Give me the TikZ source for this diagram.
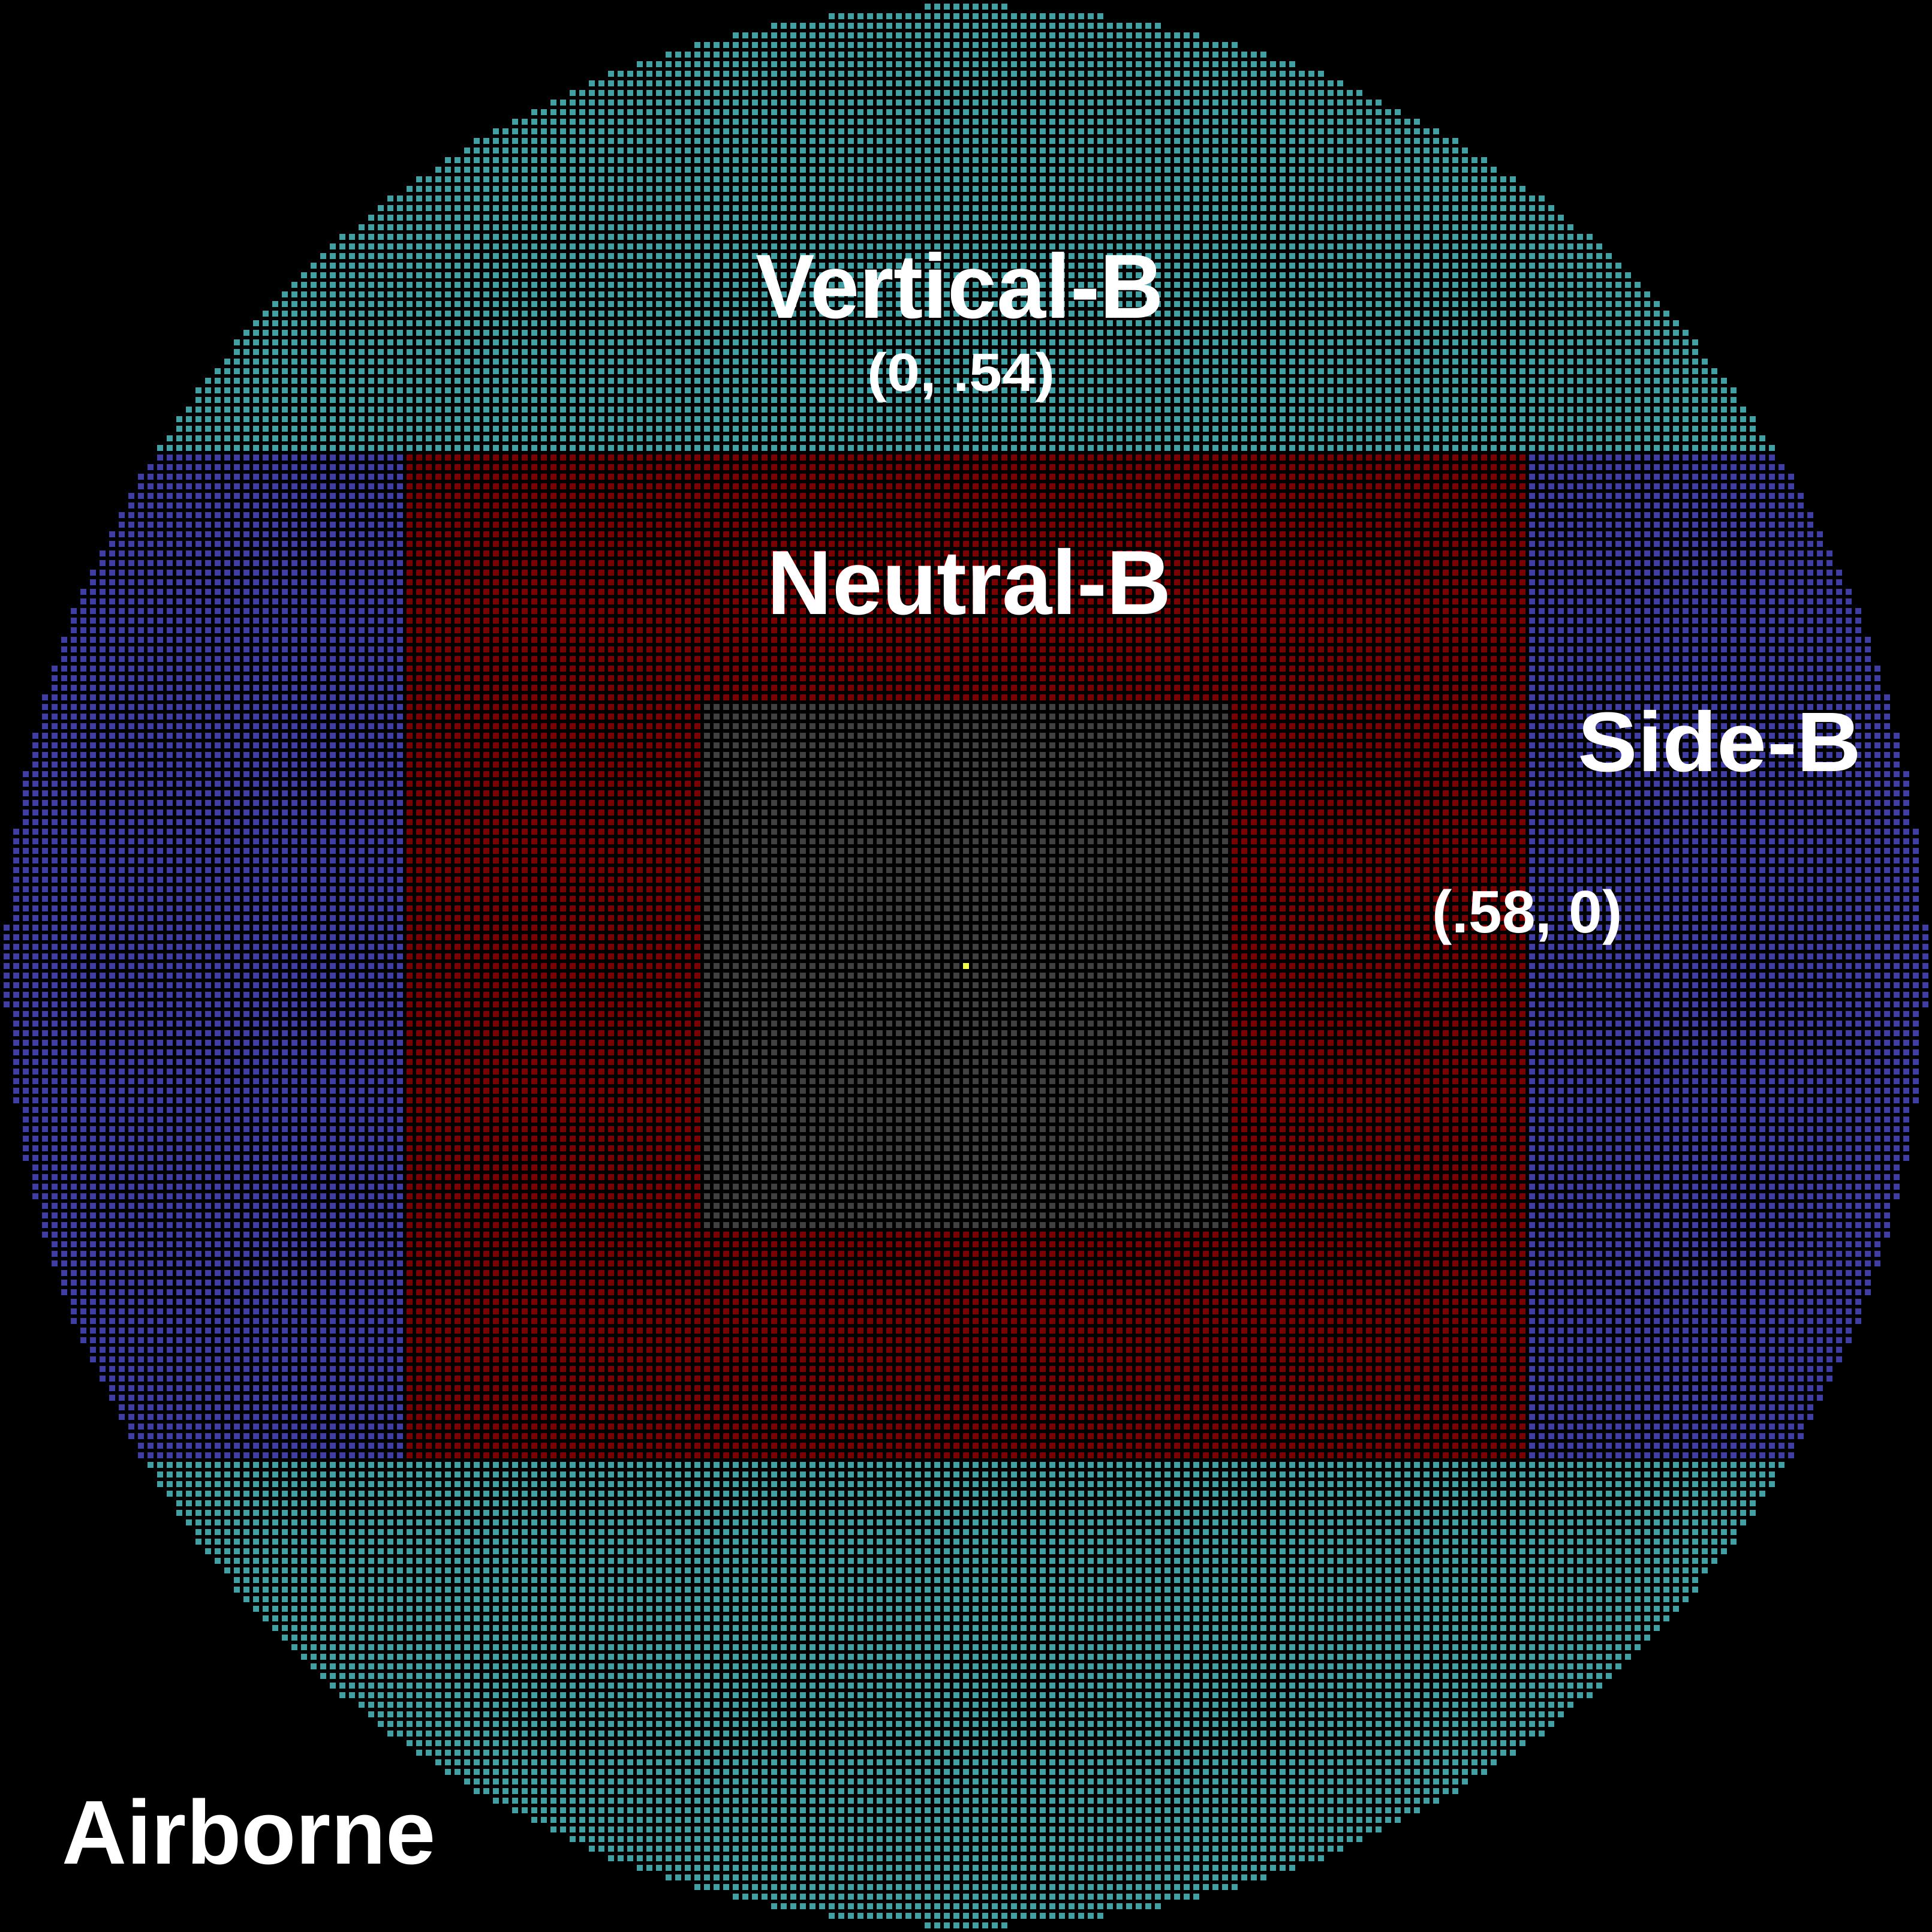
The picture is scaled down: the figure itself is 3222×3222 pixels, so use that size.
\documentclass[tikz,border=0pt]{standalone}
\usepackage{fontspec}
\setmainfont{Liberation Sans}
\usepackage{graphicx}
\definecolor{tealc}{RGB}{65,160,165}
\definecolor{bluec}{RGB}{64,61,165}
\definecolor{redc}{RGB}{124,0,0}
\definecolor{grayc}{RGB}{64,64,64}
\definecolor{yelc}{RGB}{240,255,80}
\begin{document}
\begin{tikzpicture}[x=0.01cm,y=-0.01cm,
  lab/.style={text=white,inner sep=0pt,anchor=base}]
\fill[black] (0,0) rectangle (3222,3222);
\useasboundingbox (0,0) rectangle (3222,3222);
% teal rows
\foreach \j in {-100,...,-54,52,53,...,100}{
  \pgfmathtruncatemacro{\n}{floor(sqrt(10020-\j*\j))}
  \fill[tealc] ({1606-16*\n},{1606+16*\j}) rectangle ({1616+16*\n},{1616+16*\j});
}
% blue rows
\foreach \j in {-53,...,51}{
  \pgfmathtruncatemacro{\n}{floor(sqrt(10020-\j*\j))}
  \fill[bluec] ({1606-16*\n},{1606+16*\j}) rectangle ({1616+16*\n},{1616+16*\j});
}
% neutral and centre
\fill[redc] (678,758) rectangle (2544,2432);
\fill[grayc] (1174,1174) rectangle (2048,2048);
\fill[yelc] (1606,1606) rectangle (1616,1616);
% black grid gaps
\foreach \k in {-101,...,100}{
  \fill[black] ({1616+16*\k},0) rectangle ++(6,3222);
  \fill[black] (0,{1616+16*\k}) rectangle ++(3222,6);
}
% labels
\node[lab] (vert) at (1601,531) {\fontsize{43.25pt}{50pt}\selectfont\bfseries\scalebox{0.97}[1]{Vertical-B}};
\node[lab] (vertc) at (1603,653) {\fontsize{25.6pt}{30pt}\selectfont\bfseries\scalebox{1.1}[1]{(0, .54)}};
\node[lab] (neut) at (1617,1024) {\fontsize{43.25pt}{50pt}\selectfont\bfseries\scalebox{0.985}[1]{Neutral-B}};
\node[lab] (side) at (2868,1286) {\fontsize{40.1pt}{46pt}\selectfont\bfseries\scalebox{1.06}[1]{Side-B}};
\node[lab] (sidec) at (2547,1555) {\fontsize{28.45pt}{34pt}\selectfont\bfseries (.58, 0)};
\node[lab] (air) at (415,3108) {\fontsize{43pt}{50pt}\selectfont\bfseries\scalebox{0.99}[1]{Airborne}};
\end{tikzpicture}
\end{document}
